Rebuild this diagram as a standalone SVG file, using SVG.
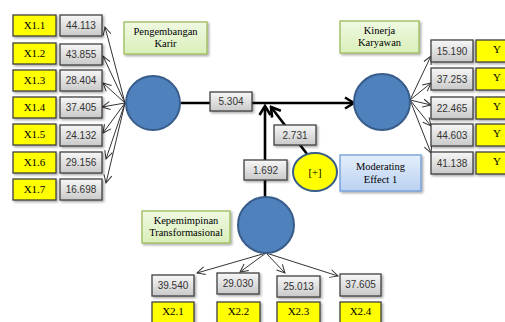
<svg xmlns="http://www.w3.org/2000/svg" width="505" height="322" viewBox="0 0 505 322">
<defs>
<linearGradient id="gGray" x1="0" y1="0" x2="0" y2="1"><stop offset="0" stop-color="#f7f7f7"/><stop offset="1" stop-color="#c9c9c9"/></linearGradient>
<linearGradient id="gGreen" x1="0" y1="0" x2="0" y2="1"><stop offset="0" stop-color="#f0f9e2"/><stop offset="1" stop-color="#d9efba"/></linearGradient>
<linearGradient id="gBlue" x1="0" y1="0" x2="0" y2="1"><stop offset="0" stop-color="#e4eefb"/><stop offset="1" stop-color="#b9d1f1"/></linearGradient>
<filter id="sh" x="-20%" y="-20%" width="150%" height="150%"><feDropShadow dx="1.5" dy="1.5" stdDeviation="1" flood-color="#000" flood-opacity="0.35"/></filter>
<marker id="thin" markerWidth="10" markerHeight="10" refX="9" refY="5" orient="auto" markerUnits="userSpaceOnUse"><polyline points="1,1 9,5 1,9" fill="none" stroke="#333" stroke-width="1"/></marker>
<marker id="thick" markerWidth="14" markerHeight="14" refX="12" refY="7" orient="auto" markerUnits="userSpaceOnUse"><polyline points="3,1.5 12,7 3,12.5" fill="none" stroke="#000" stroke-width="2.6"/></marker>
</defs>
<style>
.y{fill:#ffff00;stroke:#404040;stroke-width:1.3;filter:url(#sh)}
.g{fill:url(#gGray);stroke:#404040;stroke-width:1.3;filter:url(#sh)}
.lab{fill:url(#gGreen);stroke:#9bbb59;stroke-width:1.3;filter:url(#sh)}
.mod{fill:url(#gBlue);stroke:#6f9bd6;stroke-width:1.3;filter:url(#sh)}
.c{fill:#4f81bd;stroke:#385d8a;stroke-width:2}
.ty{font-family:"Liberation Serif",serif;font-size:11px;fill:#000;text-anchor:middle}
.tn{font-family:"Liberation Sans",sans-serif;font-size:10px;fill:#333;text-anchor:middle}
.tl{font-family:"Liberation Serif",serif;font-size:10.5px;fill:#000;text-anchor:middle}
.a{stroke:#333;stroke-width:1;fill:none;marker-end:url(#thin)}
.m{stroke:#000;stroke-width:2.6;fill:none;marker-end:url(#thick)}
</style>

<g id="connectors">
<line class="a" x1="125" y1="103" x2="105" y2="27"/>
<line class="a" x1="125" y1="103" x2="103" y2="56"/>
<line class="a" x1="125" y1="103" x2="103" y2="83"/>
<line class="a" x1="125" y1="103" x2="102" y2="107"/>
<line class="a" x1="125" y1="103" x2="103" y2="133"/>
<line class="a" x1="125" y1="103" x2="106" y2="159"/>
<line class="a" x1="125" y1="103" x2="106" y2="183"/>
<line class="a" x1="410" y1="100" x2="431" y2="56"/>
<line class="a" x1="410" y1="100" x2="431" y2="83"/>
<line class="a" x1="410" y1="100" x2="431" y2="105"/>
<line class="a" x1="410" y1="100" x2="431" y2="126"/>
<line class="a" x1="410" y1="100" x2="431" y2="153"/>
<line class="a" x1="266" y1="253" x2="197" y2="273"/>
<line class="a" x1="266" y1="253" x2="240" y2="272"/>
<line class="a" x1="266" y1="253" x2="285" y2="273"/>
<line class="a" x1="266" y1="253" x2="338" y2="276"/>
<line class="m" x1="181" y1="103" x2="354" y2="103"/>
<line class="m" x1="265" y1="198" x2="265" y2="106"/>
<line class="m" x1="307" y1="154" x2="271" y2="107"/>
</g>

<g id="X1-indicators">
<rect class="y" x="13" y="15" width="43" height="21"/><text class="ty" x="34.5" y="29">X1.1</text>
<rect class="g" x="60" y="15" width="42" height="21"/><text class="tn" x="81" y="29">44.113</text>
<rect class="y" x="13" y="43" width="43" height="21"/><text class="ty" x="34.5" y="57">X1.2</text>
<rect class="g" x="60" y="44" width="42" height="21"/><text class="tn" x="81" y="58">43.855</text>
<rect class="y" x="13" y="70" width="43" height="21"/><text class="ty" x="34.5" y="84">X1.3</text>
<rect class="g" x="60" y="70" width="42" height="21"/><text class="tn" x="81" y="84">28.404</text>
<rect class="y" x="13" y="97" width="43" height="21"/><text class="ty" x="34.5" y="111">X1.4</text>
<rect class="g" x="60" y="97" width="42" height="21"/><text class="tn" x="81" y="111">37.405</text>
<rect class="y" x="13" y="124" width="43" height="21"/><text class="ty" x="34.5" y="138">X1.5</text>
<rect class="g" x="60" y="125" width="42" height="21"/><text class="tn" x="81" y="139">24.132</text>
<rect class="y" x="13" y="152" width="43" height="21"/><text class="ty" x="34.5" y="166">X1.6</text>
<rect class="g" x="60" y="152" width="42" height="21"/><text class="tn" x="81" y="166">29.156</text>
<rect class="y" x="13" y="179" width="43" height="21"/><text class="ty" x="34.5" y="193">X1.7</text>
<rect class="g" x="60" y="179" width="42" height="21"/><text class="tn" x="81" y="193">16.698</text>
</g>

<g id="Y-indicators">
<rect class="g" x="431" y="40" width="42" height="22"/><text class="tn" x="452" y="55">15.190</text>
<rect class="y" x="476" y="40" width="40" height="22"/><text class="ty" x="497" y="53">Y</text>
<rect class="g" x="431" y="68" width="42" height="22"/><text class="tn" x="452" y="83">37.253</text>
<rect class="y" x="476" y="68" width="40" height="22"/><text class="ty" x="497" y="81">Y</text>
<rect class="g" x="431" y="97" width="42" height="22"/><text class="tn" x="452" y="112">22.465</text>
<rect class="y" x="476" y="97" width="40" height="22"/><text class="ty" x="497" y="110">Y</text>
<rect class="g" x="431" y="124" width="42" height="22"/><text class="tn" x="452" y="139">44.603</text>
<rect class="y" x="476" y="124" width="40" height="22"/><text class="ty" x="497" y="137">Y</text>
<rect class="g" x="431" y="152" width="42" height="22"/><text class="tn" x="452" y="167">41.138</text>
<rect class="y" x="476" y="152" width="40" height="22"/><text class="ty" x="497" y="165">Y</text>
</g>

<g id="X2-indicators">
<rect class="g" x="152" y="275" width="42" height="21"/><text class="tn" x="173" y="289">39.540</text>
<rect class="y" x="152" y="302" width="42" height="24"/><text class="ty" x="173" y="315">X2.1</text>
<rect class="g" x="217" y="273" width="42" height="21"/><text class="tn" x="238" y="287">29.030</text>
<rect class="y" x="217" y="302" width="43" height="24"/><text class="ty" x="238.5" y="315">X2.2</text>
<rect class="g" x="277" y="276" width="43" height="21"/><text class="tn" x="298.5" y="290">25.013</text>
<rect class="y" x="277" y="302" width="43" height="24"/><text class="ty" x="298.5" y="315">X2.3</text>
<rect class="g" x="340" y="274" width="41" height="22"/><text class="tn" x="360.5" y="288">37.605</text>
<rect class="y" x="340" y="302" width="41" height="24"/><text class="ty" x="360.5" y="315">X2.4</text>
</g>

<g id="pengembangan-karir">
<circle class="c" cx="153" cy="103" r="27"/>
<rect class="lab" x="124" y="22" width="83" height="32"/>
<text class="tl" x="165.5" y="35">Pengembangan</text>
<text class="tl" x="165.5" y="47">Karir</text>
</g>

<g id="kinerja-karyawan">
<circle class="c" cx="382" cy="102" r="28"/>
<rect class="lab" x="340" y="21" width="79" height="32"/>
<text class="tl" x="379.5" y="34">Kinerja</text>
<text class="tl" x="379.5" y="46">Karyawan</text>
</g>

<g id="kepemimpinan-transformasional">
<circle class="c" cx="266" cy="225" r="28"/>
<rect class="lab" x="142" y="211" width="88" height="32"/>
<text class="tl" x="186" y="224">Kepemimpinan</text>
<text class="tl" x="186" y="236">Transformasional</text>
</g>

<g id="moderating-effect">
<ellipse cx="315" cy="172" rx="22" ry="19" fill="#ffff00" stroke="#385d8a" stroke-width="2"/>
<text class="tl" x="315" y="176">[+]</text>
<rect class="mod" x="340" y="155" width="81" height="36"/>
<text class="tl" x="380.5" y="170">Moderating</text>
<text class="tl" x="380.5" y="183">Effect 1</text>
</g>

<g id="path-coefficients">
<rect class="g" x="210" y="92" width="42" height="19"/><text class="tn" x="231" y="105">5.304</text>
<rect class="g" x="274" y="125" width="42" height="20"/><text class="tn" x="295" y="139">2.731</text>
<rect class="g" x="244" y="160" width="43" height="20"/><text class="tn" x="265.5" y="174">1.692</text>
</g>
</svg>
